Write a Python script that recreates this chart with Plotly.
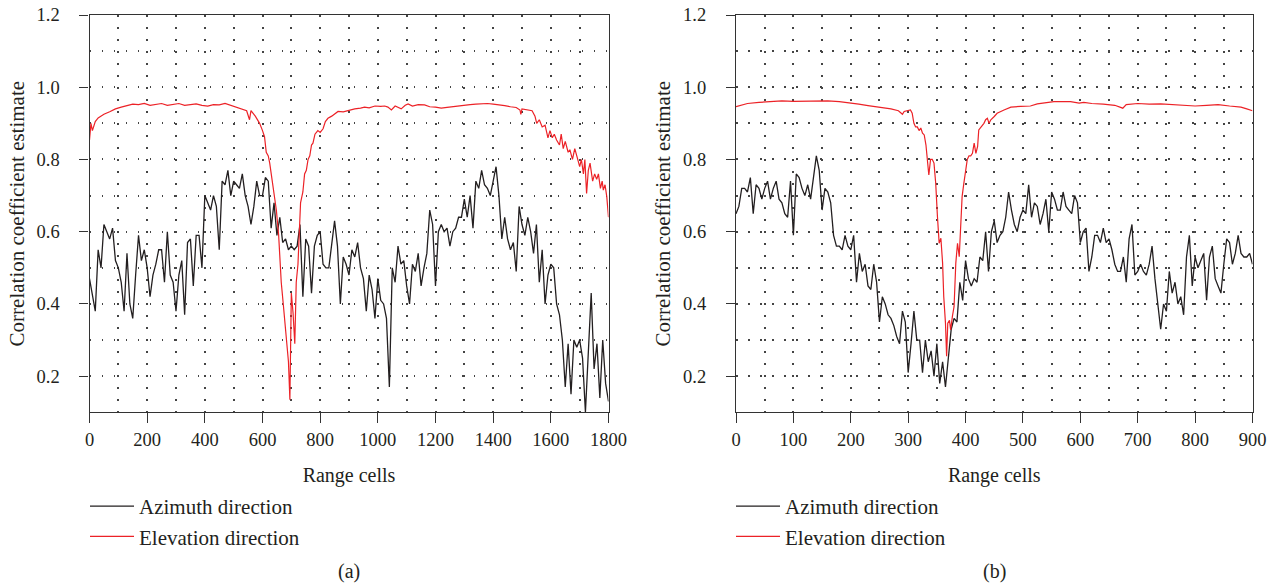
import plotly.graph_objects as go

# ---------------- data: panel (a) ----------------
a_cells = list(range(0, 1801, 10))
a_azimuth = [
    0.47, 0.43, 0.38, 0.55, 0.50, 0.62, 0.60, 0.58, 0.61, 0.52,
    0.50, 0.46, 0.38, 0.54, 0.40, 0.36, 0.48, 0.59, 0.52, 0.55,
    0.50, 0.42, 0.48, 0.51, 0.55, 0.55, 0.46, 0.60, 0.48, 0.46,
    0.38, 0.48, 0.52, 0.37, 0.57, 0.58, 0.45, 0.59, 0.59, 0.50,
    0.70, 0.68, 0.66, 0.70, 0.67, 0.55, 0.74, 0.73, 0.77, 0.70,
    0.74, 0.73, 0.72, 0.76, 0.70, 0.67, 0.62, 0.67, 0.74, 0.70,
    0.70, 0.75,
    0.74, 0.61, 0.68, 0.59, 0.64, 0.57, 0.58, 0.55, 0.56, 0.55,
    0.56, 0.62, 0.42, 0.58, 0.56, 0.43, 0.56, 0.59, 0.60, 0.51,
    0.50, 0.50, 0.57, 0.63, 0.56, 0.40, 0.53, 0.51, 0.48, 0.55,
    0.53, 0.57, 0.50, 0.47, 0.38, 0.48, 0.44, 0.36, 0.47, 0.41,
    0.40, 0.36, 0.17, 0.50, 0.46, 0.56, 0.51, 0.52, 0.45, 0.40,
    0.51, 0.49, 0.54, 0.45, 0.50, 0.54, 0.66, 0.62, 0.45,
    0.60, 0.62, 0.60, 0.61, 0.56, 0.60, 0.61, 0.64, 0.64, 0.69,
    0.64, 0.70, 0.61, 0.74, 0.72, 0.77, 0.73, 0.72, 0.70, 0.74,
    0.78, 0.70, 0.58, 0.64, 0.58, 0.55, 0.57, 0.49, 0.67, 0.62,
    0.59, 0.64, 0.60, 0.54, 0.62, 0.46, 0.55, 0.40, 0.48, 0.51,
    0.50, 0.40, 0.37, 0.30, 0.17, 0.29, 0.15, 0.30, 0.28, 0.30,
    0.25, 0.10, 0.29, 0.43, 0.22, 0.29, 0.14, 0.30, 0.18, 0.13,
]
a_elev_cells = [
    0, 5, 10, 20, 30, 50, 70, 90, 110, 130, 150, 170, 190, 210, 230, 250, 270,
    290, 310, 330, 350, 370, 390, 410, 430, 450, 470, 490, 510, 530, 545, 555,
    560, 575, 590, 600, 607, 613, 620, 625, 636, 648, 656, 665, 672, 677, 682,
    686, 690, 695, 700, 706, 712, 717, 723, 732, 740, 746, 752, 758, 764, 770,
    775, 782, 792, 800, 810, 818, 827, 840, 850, 862, 880, 900, 920, 940, 954,
    970, 990, 1010, 1024, 1035, 1047, 1060, 1081, 1095, 1105, 1120, 1140, 1162,
    1180, 1200, 1220, 1240, 1260, 1280, 1300, 1320, 1340, 1360, 1380, 1400,
    1420, 1440, 1460, 1480, 1493, 1496, 1500, 1520, 1535, 1545, 1551, 1560,
    1570, 1580, 1590, 1597, 1605, 1612, 1620, 1630, 1636, 1643, 1650, 1660,
    1666, 1675, 1683, 1690, 1700, 1706, 1713, 1718, 1724, 1730, 1736, 1745,
    1752, 1759, 1765, 1772, 1778, 1782, 1788, 1794, 1800,
]
a_elevation = [
    0.854, 0.90, 0.88, 0.905, 0.915, 0.925, 0.932, 0.94, 0.945, 0.95, 0.953,
    0.952, 0.955, 0.95, 0.952, 0.955, 0.950, 0.952, 0.955, 0.950, 0.953, 0.954,
    0.95, 0.948, 0.952, 0.951, 0.955, 0.95, 0.945, 0.94, 0.935, 0.91, 0.935,
    0.92, 0.90, 0.88, 0.863, 0.82, 0.81, 0.79, 0.725, 0.66, 0.59, 0.46, 0.40,
    0.36, 0.30, 0.28, 0.24, 0.135, 0.43, 0.375, 0.29, 0.46, 0.51, 0.68, 0.71,
    0.76, 0.77, 0.80, 0.81, 0.84, 0.845, 0.87, 0.88, 0.875, 0.885, 0.905, 0.914,
    0.92, 0.925, 0.933, 0.932, 0.937, 0.94, 0.942, 0.945, 0.943, 0.948, 0.947,
    0.948, 0.945, 0.937, 0.948, 0.94, 0.95, 0.954, 0.948, 0.952, 0.951, 0.946,
    0.945, 0.942, 0.944, 0.946, 0.95, 0.951, 0.952, 0.953, 0.955, 0.955, 0.953,
    0.952, 0.949, 0.946, 0.944, 0.937, 0.925, 0.94, 0.938, 0.935, 0.92, 0.90,
    0.91, 0.89, 0.895, 0.86, 0.88, 0.86, 0.87, 0.854, 0.84, 0.87, 0.83, 0.85,
    0.82, 0.827, 0.80, 0.83, 0.81, 0.78, 0.80, 0.76, 0.80, 0.706, 0.77, 0.79,
    0.74, 0.76, 0.745, 0.76, 0.72, 0.74, 0.715, 0.73, 0.697, 0.64,
]

# ---------------- data: panel (b) ----------------
b_cells = list(range(0, 901, 5))
b_azimuth = [
    0.65, 0.67, 0.72, 0.72, 0.71, 0.75, 0.65, 0.73, 0.72, 0.69,
    0.72, 0.74, 0.69, 0.72, 0.74, 0.69, 0.68, 0.65, 0.64, 0.74,
    0.59, 0.76, 0.75, 0.72, 0.70, 0.73, 0.69, 0.75, 0.81, 0.77,
    0.66, 0.72, 0.71, 0.68, 0.59, 0.56, 0.56, 0.55, 0.59, 0.56,
    0.55, 0.59, 0.46, 0.54, 0.49, 0.51, 0.45, 0.44, 0.51, 0.46,
    0.35, 0.42, 0.40, 0.37, 0.36, 0.34, 0.31, 0.29, 0.38, 0.35,
    0.21, 0.29,
    0.38, 0.30, 0.30, 0.21, 0.30, 0.24, 0.27, 0.20, 0.29, 0.18,
    0.24, 0.17, 0.26, 0.33, 0.36, 0.35, 0.46, 0.41, 0.52, 0.47,
    0.45, 0.47, 0.46, 0.53, 0.52, 0.60, 0.49, 0.60, 0.63, 0.57,
    0.59, 0.60, 0.64, 0.71, 0.66, 0.62, 0.60, 0.64, 0.66, 0.65,
    0.73, 0.64, 0.68, 0.67, 0.62, 0.65, 0.69, 0.60, 0.71, 0.69,
    0.66, 0.66, 0.71, 0.67, 0.66, 0.65, 0.70, 0.68, 0.57, 0.60,
    0.61, 0.49, 0.53, 0.59, 0.59, 0.57, 0.61, 0.57, 0.58, 0.55,
    0.51, 0.49, 0.49, 0.53, 0.46, 0.58, 0.62, 0.48, 0.49, 0.51,
    0.49, 0.48, 0.51, 0.56, 0.47, 0.40, 0.33, 0.40, 0.38, 0.49,
    0.43, 0.46, 0.40, 0.42, 0.37, 0.53, 0.59, 0.45, 0.53, 0.50,
    0.52, 0.54, 0.41, 0.53, 0.56, 0.47, 0.45, 0.43, 0.51, 0.58,
    0.57, 0.51, 0.54, 0.59, 0.54, 0.53, 0.53, 0.54, 0.51,
]
b_elev_cells = [
    0, 10, 20, 40, 60, 80, 100, 120, 140, 160, 180, 200, 214, 230, 250, 260,
    270, 283, 290, 293, 300, 304, 307, 310, 313, 316, 319, 322, 325, 328, 331,
    333, 336, 339, 342, 345, 348, 351, 354, 357, 360, 362, 365, 367, 369, 372,
    374, 377, 380, 383, 386, 389, 391, 394, 397, 400, 403, 406, 409, 412, 415,
    418, 421, 423, 426, 432, 435, 438, 441, 444, 450, 455, 467, 479, 496, 513,
    525, 554, 583, 598, 606, 620, 640, 660, 674, 680, 700, 720, 740, 760, 780,
    800, 820, 840, 860, 880, 890, 900,
]
b_elevation = [
    0.946, 0.95, 0.955, 0.958, 0.96, 0.962, 0.961, 0.962, 0.961, 0.962, 0.96,
    0.957, 0.953, 0.949, 0.945, 0.944, 0.94, 0.935, 0.925, 0.933, 0.935, 0.937,
    0.928, 0.90, 0.89, 0.89, 0.88, 0.887, 0.873, 0.868, 0.84, 0.80, 0.757, 0.80,
    0.80, 0.79, 0.734, 0.642, 0.568, 0.582, 0.513, 0.42, 0.347, 0.255, 0.347,
    0.355, 0.328, 0.365, 0.393, 0.513, 0.568, 0.531, 0.614, 0.697, 0.734, 0.771,
    0.80, 0.81, 0.81, 0.817, 0.845, 0.817, 0.836, 0.882, 0.887, 0.90, 0.91,
    0.914, 0.90, 0.91, 0.919, 0.928, 0.937, 0.945, 0.947, 0.948, 0.954, 0.96,
    0.96, 0.956, 0.958, 0.955, 0.953, 0.950, 0.942, 0.952, 0.955, 0.953, 0.954,
    0.952, 0.95, 0.948, 0.95, 0.952, 0.948, 0.945, 0.94, 0.935,
]

y_ticks = [0.2, 0.4, 0.6, 0.8, 1.0, 1.2]
a_xticks = [0, 200, 400, 600, 800, 1000, 1200, 1400, 1600, 1800]
b_xticks = [0, 100, 200, 300, 400, 500, 600, 700, 800, 900]

W, H = 1277, 584
FONT = "Liberation Serif"
BLACK = "#231f20"
RED = "#ec2227"
AX = "#333333"
GRIDC = "#444444"
DASH = "1.5px,10.5px"
TXT = "#231f20"

fig = go.Figure()
fig.add_trace(go.Scatter(x=a_cells, y=a_azimuth, mode="lines", name="Azimuth direction",
                         line=dict(color=BLACK, width=1.3), xaxis="x", yaxis="y", legend="legend"))
fig.add_trace(go.Scatter(x=a_elev_cells, y=a_elevation, mode="lines", name="Elevation direction",
                         line=dict(color=RED, width=1.2), xaxis="x", yaxis="y", legend="legend"))
fig.add_trace(go.Scatter(x=b_cells, y=b_azimuth, mode="lines", name="Azimuth direction",
                         line=dict(color=BLACK, width=1.3), xaxis="x2", yaxis="y2", legend="legend2"))
fig.add_trace(go.Scatter(x=b_elev_cells, y=b_elevation, mode="lines", name="Elevation direction",
                         line=dict(color=RED, width=1.2), xaxis="x2", yaxis="y2", legend="legend2"))

xa_dom = [89.5 / W, 608.5 / W]
xb_dom = [736 / W, 1252.5 / W]
y_dom = [(H - 412.3) / H, (H - 15) / H]


def xaxis(dom, ticks, minor, anchor):
    return dict(
        domain=dom, anchor=anchor, range=[ticks[0], ticks[-1]], tickvals=ticks,
        ticks="outside", ticklen=10, tickwidth=1.2, tickcolor=AX,
        showline=True, linecolor=AX, linewidth=1.3, mirror=True,
        showgrid=True, gridcolor=GRIDC, gridwidth=1.5, griddash=DASH,
        minor=dict(dtick=minor, tick0=0, showgrid=True, gridcolor=GRIDC, gridwidth=1.5, griddash=DASH, ticks=""),
        zeroline=False, automargin=False,
        tickfont=dict(family=FONT, size=18.5, color=TXT),
        title=dict(text="Range cells", font=dict(family=FONT, size=20, color=TXT), standoff=19),
    )


def yaxis(dom, anchor):
    return dict(
        domain=dom, anchor=anchor, range=[0.1, 1.2], tickvals=y_ticks, tickformat=".1f",
        ticks="outside", ticklen=9, tickwidth=1.2, tickcolor=AX,
        showline=True, linecolor=AX, linewidth=1.3, mirror=True,
        showgrid=True, gridcolor=GRIDC, gridwidth=1.5, griddash=DASH,
        minor=dict(dtick=0.1, tick0=0.1, showgrid=True, gridcolor=GRIDC, gridwidth=1.5, griddash=DASH, ticks=""),
        zeroline=False, automargin=False, ticklabelstandoff=16,
        tickfont=dict(family=FONT, size=18.5, color=TXT),
        title=dict(text="Correlation coefficient estimate", font=dict(family=FONT, size=21, color=TXT), standoff=6),
    )


legend_common = dict(
    xanchor="left", yanchor="top", bgcolor="rgba(0,0,0,0)",
    font=dict(family=FONT, size=21, color=TXT), tracegroupgap=0,
    itemwidth=44, orientation="v",
)

fig.update_layout(
    width=W, height=H,
    margin=dict(l=0, r=0, t=0, b=0),
    paper_bgcolor="white", plot_bgcolor="white",
    font=dict(family=FONT, color=TXT),
    xaxis=xaxis(xa_dom, a_xticks, 100, "y"),
    yaxis=yaxis(y_dom, "x"),
    xaxis2=xaxis(xb_dom, b_xticks, 50, "y2"),
    yaxis2=yaxis(y_dom, "x2"),
    legend=dict(x=85 / W, y=(H - 486) / H, **legend_common),
    legend2=dict(x=731 / W, y=(H - 486) / H, **legend_common),
    showlegend=True,
    annotations=[
        dict(text="(a)", x=(xa_dom[0] + xa_dom[1]) / 2, y=(H - 571) / H, xref="paper", yref="paper",
             showarrow=False, font=dict(family=FONT, size=20, color=TXT), xanchor="center", yanchor="middle"),
        dict(text="(b)", x=(xb_dom[0] + xb_dom[1]) / 2, y=(H - 571) / H, xref="paper", yref="paper",
             showarrow=False, font=dict(family=FONT, size=20, color=TXT), xanchor="center", yanchor="middle"),
    ],
)

fig.write_html("out.html")
